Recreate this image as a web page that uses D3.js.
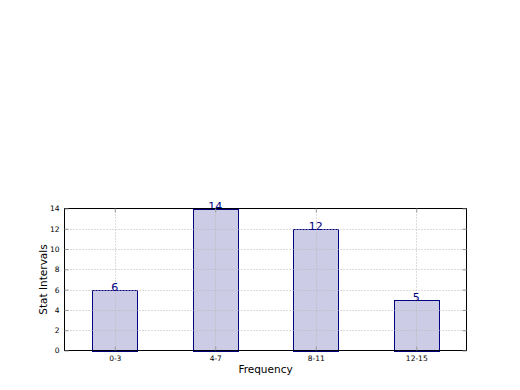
<!DOCTYPE html>
<html>
<head>
<meta charset="utf-8">
<script src="https://cdn.jsdelivr.net/npm/d3@7"></script>
<style>
  body { margin: 0; background: #fff; }
  svg { display: block; }
</style>
</head>
<body>
<svg id="chart" width="520" height="390"></svg>
<script>
const categories = ['0-3', '4-7', '8-11', '12-15'];
const values = [6, 14, 12, 5];
const yTicks = [0, 2, 4, 6, 8, 10, 12, 14];

const mLeft = 64.5, mRight = 466.5, mTop = 208.5, mBottom = 350.5;
const svg = d3.select('#chart');

const x = d3.scaleLinear().domain([0, categories.length]).range([mLeft, mRight]);
const y = d3.scaleLinear().domain([0, 14]).range([mBottom, mTop]);

const font = 'DejaVu Sans, sans-serif';

// bars
svg.append('g')
  .selectAll('rect')
  .data(values)
  .enter()
  .append('rect')
  .attr('x', (d, i) => Math.round(x(i + 0.275)) + 0.5)
  .attr('width', (d, i) => Math.round(x(i + 0.725)) - Math.round(x(i + 0.275)))
  .attr('y', d => Math.round(y(d)) + 0.5)
  .attr('height', d => Math.round(y(0)) - Math.round(y(d)))
  .attr('fill', 'rgba(0,0,128,0.2)')
  .attr('stroke', '#000080')
  .attr('stroke-width', 1);

// dotted grid drawn over the bars
const grid = svg.append('g')
  .attr('stroke', '#b8b8b8')
  .attr('stroke-width', 1)
  .attr('stroke-dasharray', '1,2');
grid.selectAll('line.v')
  .data(categories)
  .enter()
  .append('line')
  .attr('x1', (d, i) => Math.round(x(i + 0.5)) + 0.5)
  .attr('x2', (d, i) => Math.round(x(i + 0.5)) + 0.5)
  .attr('y1', mTop)
  .attr('y2', mBottom);
grid.selectAll('line.h')
  .data(yTicks.filter(t => t > 0 && t < 14))
  .enter()
  .append('line')
  .attr('x1', mLeft).attr('x2', mRight)
  .attr('y1', d => Math.round(y(d)) + 0.5)
  .attr('y2', d => Math.round(y(d)) + 0.5);

// value labels
svg.append('g')
  .selectAll('text')
  .data(values)
  .enter()
  .append('text')
  .attr('x', (d, i) => x(i + 0.5))
  .attr('y', d => y(d) + 1)
  .attr('text-anchor', 'middle')
  .attr('font-family', font)
  .attr('font-size', 11)
  .attr('fill', '#000080')
  .text(d => d);

// frame
svg.append('rect')
  .attr('x', mLeft).attr('y', mTop)
  .attr('width', mRight - mLeft).attr('height', mBottom - mTop)
  .attr('fill', 'none')
  .attr('stroke', '#000')
  .attr('stroke-width', 1);

// y axis
const yAxis = d3.axisLeft(y)
  .tickValues(yTicks)
  .tickSizeInner(-4)
  .tickSizeOuter(0)
  .tickPadding(5);
const yg = svg.append('g').attr('transform', `translate(${mLeft},0)`).call(yAxis);
yg.select('.domain').remove();
yg.selectAll('line').attr('stroke', '#999');
yg.selectAll('text').attr('font-family', font).attr('font-size', 7.5).attr('fill', '#000');

const yAxisR = d3.axisRight(y).tickValues(yTicks).tickSizeInner(-4).tickSizeOuter(0).tickFormat('');
const yr = svg.append('g').attr('transform', `translate(${mRight},0)`).call(yAxisR);
yr.select('.domain').remove();
yr.selectAll('line').attr('stroke', '#999');

// x axis
const xAxis = d3.axisBottom(x)
  .tickValues(categories.map((d, i) => i + 0.5))
  .tickFormat((d, i) => categories[i])
  .tickSizeInner(-4)
  .tickSizeOuter(0)
  .tickPadding(5);
const xg = svg.append('g').attr('transform', `translate(0,${mBottom})`).call(xAxis);
xg.select('.domain').remove();
xg.selectAll('line').attr('stroke', '#999');
xg.selectAll('text').attr('font-family', font).attr('font-size', 7.5).attr('fill', '#000');

const xAxisT = d3.axisTop(x).tickValues(categories.map((d, i) => i + 0.5)).tickSizeInner(-4).tickSizeOuter(0).tickFormat('');
const xt = svg.append('g').attr('transform', `translate(0,${mTop})`).call(xAxisT);
xt.select('.domain').remove();
xt.selectAll('line').attr('stroke', '#999');

// axis titles
svg.append('text')
  .attr('x', (mLeft + mRight) / 2)
  .attr('y', 373)
  .attr('text-anchor', 'middle')
  .attr('font-family', font)
  .attr('font-size', 10.5)
  .text('Frequency');

svg.append('text')
  .attr('transform', `translate(46.5,${(mTop + mBottom) / 2}) rotate(-90)`)
  .attr('text-anchor', 'middle')
  .attr('font-family', font)
  .attr('font-size', 10.5)
  .text('Stat Intervals');
</script>
</body>
</html>
